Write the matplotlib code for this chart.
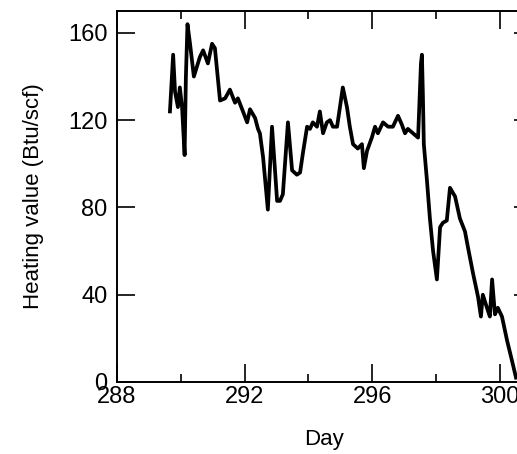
import matplotlib.pyplot as plt
from matplotlib.ticker import MultipleLocator

plt.rcParams['font.family'] = ['Liberation Sans', 'DejaVu Sans']

# heating value trace
day = [289.66, 289.76, 289.82, 289.91, 289.97, 290.04, 290.12, 290.16, 290.21, 290.29,
       290.41, 290.60, 290.70, 290.85, 290.98, 291.07, 291.13, 291.23, 291.39, 291.54,
       291.70, 291.79, 291.95, 292.08, 292.17, 292.33, 292.42, 292.48, 292.58, 292.73,
       292.86, 293.02, 293.11, 293.20, 293.36, 293.49, 293.64, 293.74, 293.83, 293.96,
       294.05, 294.14, 294.27, 294.36, 294.46, 294.58, 294.68, 294.77, 294.90, 294.99,
       295.08, 295.21, 295.30, 295.40, 295.55, 295.68, 295.74, 295.84, 295.99, 296.09,
       296.18, 296.34, 296.50, 296.65, 296.81, 296.93, 297.03, 297.12, 297.28, 297.44,
       297.53, 297.56, 297.59, 297.62, 297.72, 297.81, 297.91, 298.03, 298.13, 298.22,
       298.34, 298.44, 298.60, 298.75, 298.91, 299.00, 299.16, 299.32, 299.41, 299.47,
       299.60, 299.69, 299.76, 299.85, 299.94, 300.07, 300.23, 300.38, 300.51]
heating = [124, 150, 133, 126, 135, 126, 104, 140, 164, 155,
           140, 149, 152, 146, 155, 153, 144, 129, 130, 134,
           128, 130, 124, 119, 125, 121, 116, 114, 103, 79,
           117, 83, 83, 86, 119, 97, 95, 96, 105, 117,
           116, 119, 117, 124, 114, 119, 120, 117, 117, 126,
           135, 126, 117, 109, 107, 109, 98, 106, 112, 117,
           114, 119, 117, 117, 122, 118, 114, 116, 114, 112,
           146, 150, 132, 109, 92, 75, 60, 47, 71, 73,
           74, 89, 85, 75, 69, 62, 50, 39, 30, 40,
           34, 30, 47, 31, 34, 30, 19, 10, 2]

fig = plt.figure(figsize=(5.17, 4.54), dpi=100)
ax = fig.add_axes([0.2263, 0.1586, 0.802, 0.817])

ax.plot(day, heating, color='black', linewidth=2.7, solid_joinstyle='round')

ax.set_xlim(288, 301)
ax.set_ylim(0, 170)
ax.xaxis.set_major_locator(MultipleLocator(4))
ax.xaxis.set_minor_locator(MultipleLocator(2))
ax.yaxis.set_major_locator(MultipleLocator(40))

ax.tick_params(which='both', direction='in', top=True, right=True, labelsize=17, width=1.2)
ax.tick_params(which='major', length=13, pad=3)
ax.tick_params(which='minor', length=6)
ax.tick_params(axis='y', pad=7)
for s in ax.spines.values():
    s.set_linewidth(1.4)

ax.set_xlabel('Day', fontsize=16, labelpad=15)
ax.set_ylabel('Heating value (Btu/scf)', fontsize=16, labelpad=17)

fig.savefig('out.png', dpi=100)
